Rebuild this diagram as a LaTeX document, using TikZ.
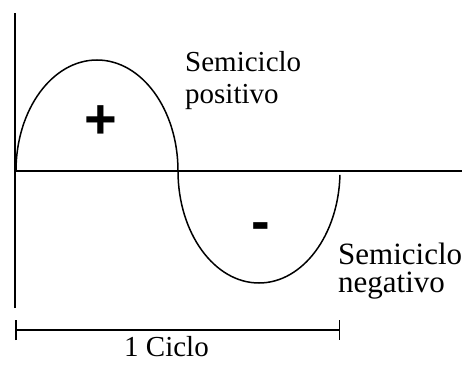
\documentclass[tikz,border=0pt]{standalone}
\usepackage{fontspec}
\setmainfont{Liberation Serif}
\newfontfamily\signfont{Liberation Sans}
\usepackage{tikz}
\usetikzlibrary{arrows.meta, positioning}

\begin{document}
\begin{tikzpicture}[
    x=1pt, y=1pt,
    axisLine/.style={line width=1.5pt, black},
    waveLine/.style={line width=1.5pt, black},
    spanLine/.style={line width=1.5pt, black, {Bar[width=20pt,line width=1.5pt]}-{Bar[width=20pt,line width=1.5pt]}},
    labelText/.style={align=left, inner sep=0pt, anchor=north west},
    signText/.style={inner sep=0pt, font=\signfont\bfseries\fontsize{56}{56}\selectfont}
]
    \useasboundingbox (0,0) rectangle (462,364);

    % Axes
    \coordinate (o)    at (15,193);
    \coordinate (ytop) at (15,351);
    \coordinate (ybot) at (15,56);
    \coordinate (xend) at (462,193);
    \draw[axisLine] (ybot) -- (ytop);
    \draw[axisLine] (o) -- (xend);

    % One cycle of the wave
    \draw[waveLine] (16,193) arc[start angle=180, end angle=0, x radius=81, y radius=111]
                     arc[start angle=180, end angle=358, x radius=81, y radius=112];

    % Signs
    \node[signText] (plus)  at (101,242) {+};
    \node[signText] (minus) at (261,132) {-};

    % Labels
    \node[labelText, font=\fontsize{29}{32}\selectfont] (pos) at (185,313) {Semiciclo\\positivo};
    \node[labelText, font=\fontsize{31}{28}\selectfont] (neg) at (338,121) {Semiciclo\\negativo};

    % Period
    \coordinate (cycA) at (15,34);
    \coordinate (cycB) at (340,34);
    \draw[spanLine] (cycA) -- (cycB);
    \node[font=\fontsize{29}{29}\selectfont, anchor=base, inner sep=0pt] (cyc) at (166.5,8) {1 Ciclo};
\end{tikzpicture}
\end{document}
